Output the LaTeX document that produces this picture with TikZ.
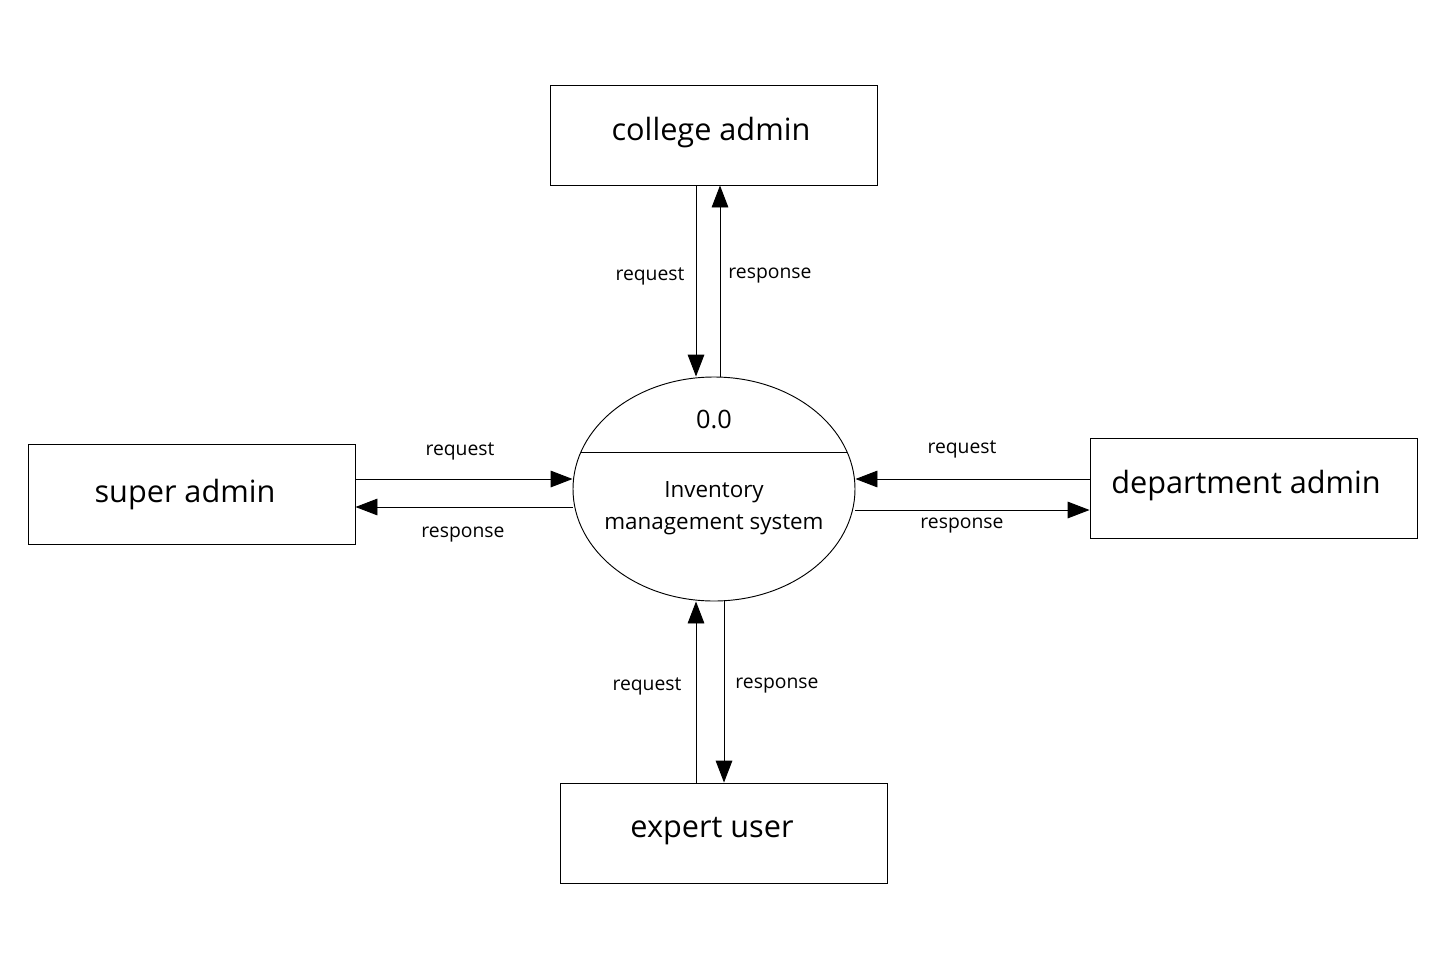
\documentclass[tikz,border=0pt]{standalone}
\usepackage{fontspec}
\setmainfont{Open Sans}
\usetikzlibrary{arrows.meta,shapes.geometric}
\tikzset{
  entity/.style={draw, line width=0.7pt, minimum width=245.25pt, minimum height=75pt, inner sep=0pt},
  bigtext/.style={font=\fontsize{23}{27}\selectfont, inner sep=0pt},
  lbl/.style={font=\fontsize{14.5}{17}\selectfont, inner sep=0pt},
  proc/.style={draw, ellipse, line width=0.7pt, minimum width=211.5pt, minimum height=168pt, inner sep=0pt},
  flow/.style={line width=0.7pt, -{Triangle[length=16.5pt,width=12.5pt]}}
}
\begin{document}
\begin{tikzpicture}[x=0.75pt,y=-0.75pt]
\useasboundingbox (0,0) rectangle (1445,968);
% entities
\node[entity] (ca) at (713.5,135) {};
\node[bigtext] (cat) at (711,133) {college admin};
\node[entity] (sa) at (191.5,494) {};
\node[bigtext] (sat) at (185,495) {super admin};
\node[entity] (da) at (1253.5,488) {};
\node[bigtext] (dat) at (1246,486) {department admin};
\node[entity] (eu) at (723.5,833) {};
\node[bigtext] (eut) at (712,831) {expert user};
% process
\node[proc] (pc) at (714,489) {};
\draw[line width=0.7pt] ([shift={(-133,-37)}]pc.center) -- ([shift={(133,-37)}]pc.center);
\node[font=\fontsize{19}{23}\selectfont, inner sep=0pt] (pnum) at (714,419) {0.0};
\node[font=\fontsize{16.8}{24}\selectfont, align=center, inner sep=0pt] (pname) at (714,508) {Inventory\\management system};
% helper coordinates
\coordinate (x696) at (696,0);
\coordinate (x720) at (720,0);
\coordinate (x724) at (724,0);
\coordinate (y479) at (0,479);
\coordinate (y507) at (0,507);
\coordinate (y510) at (0,510);
% top
\draw[flow] (ca.south -| x696) -- (pc.north -| x696);
\draw[flow] (pc.north -| x720) -- (ca.south -| x720);
\node[lbl] (l1) at (650,276) {request};
\node[lbl] (l2) at (770,276) {response};
% left
\draw[flow] (sa.east |- y479) -- (pc.west |- y479);
\draw[flow] (pc.west |- y507) -- (sa.east |- y507);
\node[lbl] (l3) at (460,451) {request};
\node[lbl] (l4) at (463,535) {response};
% right
\draw[flow] (da.west |- y479) -- (pc.east |- y479);
\draw[flow] (pc.east |- y510) -- (da.west |- y510);
\node[lbl] (l5) at (962,449) {request};
\node[lbl] (l6) at (962,526) {response};
% bottom
\draw[flow] (eu.north -| x696) -- (pc.south -| x696);
\draw[flow] (pc.south -| x724) -- (eu.north -| x724);
\node[lbl] (l7) at (647,686) {request};
\node[lbl] (l8) at (777,686) {response};
\end{tikzpicture}
\end{document}
